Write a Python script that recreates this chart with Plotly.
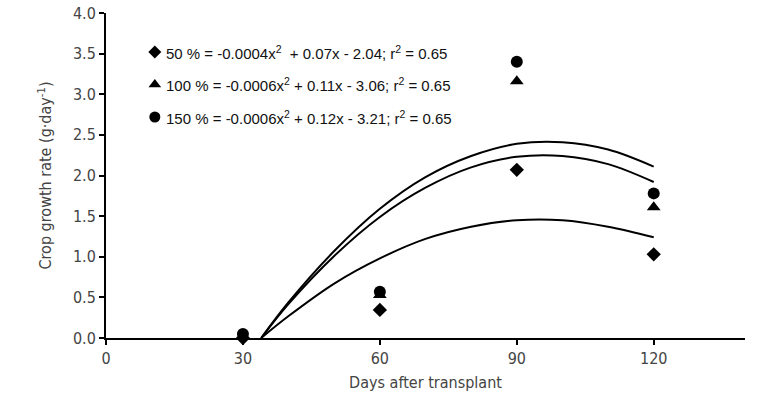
import plotly.graph_objects as go

# observed data
days = [30, 60, 90, 120]
obs_50 = [0.00, 0.345, 2.07, 1.03]
obs_100 = [0.02, 0.53, 3.16, 1.61]
obs_150 = [0.05, 0.57, 3.40, 1.78]

# fitted curves
curve_days = [34, 40, 50, 60, 70, 80, 90, 100, 110, 120]
fit_50 = [0.0, 0.27, 0.67, 0.98, 1.22, 1.37, 1.45, 1.45, 1.37, 1.24]
fit_100 = [0.0, 0.42, 1.01, 1.49, 1.85, 2.10, 2.23, 2.24, 2.14, 1.92]
fit_150 = [0.0, 0.44, 1.07, 1.59, 1.98, 2.24, 2.39, 2.41, 2.32, 2.11]

labels = [
    "50 % = -0.0004x<sup>2</sup>  + 0.07x - 2.04; r<sup>2</sup> = 0.65",
    "100 % = -0.0006x<sup>2</sup> + 0.11x - 3.06; r<sup>2</sup> = 0.65",
    "150 % = -0.0006x<sup>2</sup> + 0.12x - 3.21; r<sup>2</sup> = 0.65",
]
symbols = ["diamond", "triangle-up", "circle"]
sizes = [11, 12, 12]

x_ticks = [0, 30, 60, 90, 120]
y_ticks = [0.0, 0.5, 1.0, 1.5, 2.0, 2.5, 3.0, 3.5, 4.0]

fig = go.Figure()
for fit in [fit_50, fit_100, fit_150]:
    fig.add_trace(go.Scatter(x=curve_days, y=fit, mode="lines",
                             line=dict(color="black", width=2, shape="spline"),
                             showlegend=False, hoverinfo="skip"))

for obs, sym, sz in zip([obs_50, obs_100, obs_150], symbols, sizes):
    fig.add_trace(go.Scatter(x=days, y=obs, mode="markers",
                             marker=dict(symbol=sym, size=sz, color="black"),
                             cliponaxis=False, showlegend=False))

# legend (equations) drawn as marker + text
leg_y = [3.52, 3.12, 2.72]
for lab, sym, sz, yy in zip(labels, symbols, sizes, leg_y):
    fig.add_trace(go.Scatter(x=[10.7], y=[yy], mode="markers",
                             marker=dict(symbol=sym, size=sz - 1, color="black"),
                             showlegend=False, hoverinfo="skip"))
    fig.add_annotation(x=12.6, y=yy, text=lab, showarrow=False,
                       xanchor="left", yanchor="middle",
                       font=dict(family="Liberation Sans, Arial", size=15, color="#111"))

axis_font = dict(family="DejaVu Sans Condensed, Liberation Sans Narrow, Arial Narrow", size=16, color="#444")

fig.update_layout(
    width=784, height=399,
    margin=dict(l=106, r=39, t=13, b=61),
    plot_bgcolor="white", paper_bgcolor="white",
    xaxis=dict(range=[0, 140], tickvals=x_ticks, showgrid=False, zeroline=False,
               showline=True, linecolor="black", linewidth=2, automargin=False,
               ticks="outside", ticklen=5, tickwidth=1.5, tickcolor="black",
               tickfont=axis_font,
               title=dict(text="Days after transplant", font=axis_font, standoff=10)),
    yaxis=dict(range=[0, 4], tickvals=y_ticks, tickformat=".1f", showgrid=False,
               zeroline=False, showline=True, linecolor="black", linewidth=2,
               automargin=False,
               ticks="outside", ticklen=5, tickwidth=1.5, tickcolor="black",
               tickfont=axis_font,
               title=dict(text="Crop growth rate (g·day<sup>-1</sup>)", font=axis_font, standoff=17)),
)

fig.write_html("out.html", config={"displayModeBar": False},
               post_script="document.body.style.margin='0px';")
